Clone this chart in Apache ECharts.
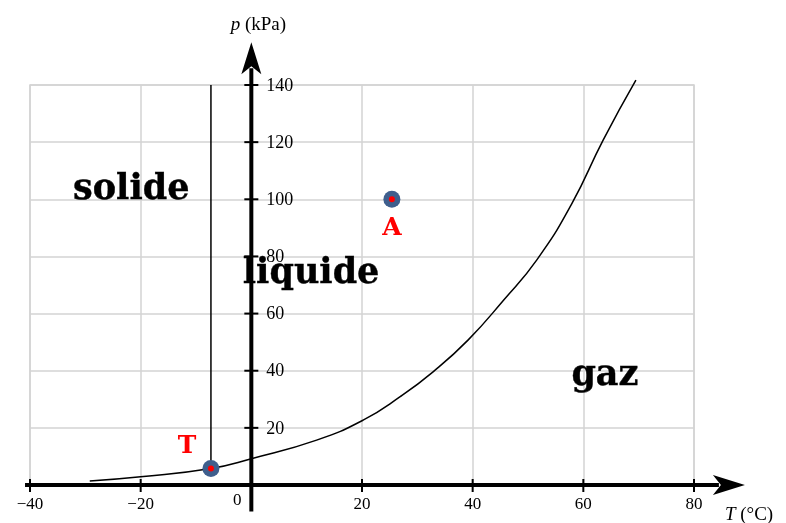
<!DOCTYPE html>
<html><head><meta charset="utf-8">
<script src="https://cdn.jsdelivr.net/npm/echarts@6/dist/echarts.min.js"></script>
<style>html,body{margin:0;padding:0;background:#fff}#c{width:786px;height:523px}</style>
</head><body><div id="c"></div>
<script>
// ---- data ----
const xTicks = [-40, -20, 0, 20, 40, 60, 80];
const yTicks = [20, 40, 60, 80, 100, 120, 140];
const curveT = [-29.2, -20, -7.3, 0, 11.8, 20.2, 26.9, 32.9, 39.2, 45.5, 51.6, 57.9, 63.6, 69.5];
const curveP = [1.4, 2.9, 5.8, 9.2, 15.7, 22.7, 30.9, 39.7, 50.8, 64.5, 78.8, 98.4, 120.8, 141.7];
const fusionT = [-7.3, -7.3];
const fusionP = [5.8, 140];
const pointNames = ['T', 'A'];
const pointT = [-7.3, 25.4];
const pointP = [5.8, 100];
const regionNames = ['solide', 'liquide', 'gaz'];
const regionT = [-21.7, 10.8, 63.9];
const regionP = [103.4, 74.0, 38.3];
const xAxisExtent = [-40.9, 89.2];
const yAxisExtent = [-9.3, 155];

const serif = "'Liberation Serif', 'DejaVu Serif', serif";
const chart = echarts.init(document.getElementById('c'), null, {renderer: 'canvas'});
const zip = (a, b) => a.map((v, i) => [v, b[i]]);

chart.setOption({
  animation: false,
  backgroundColor: '#fff',
  grid: {left: 30, right: 92, top: 85, bottom: 38, show: true, borderColor: '#d3d3d3', borderWidth: 1.5, backgroundColor: 'transparent'},
  xAxis: {type: 'value', min: -40, max: 80, interval: 20,
    axisLine: {show: false}, axisTick: {show: false}, axisLabel: {show: false},
    splitLine: {show: true, lineStyle: {color: '#d3d3d3', width: 1.5}}},
  yAxis: {type: 'value', min: 0, max: 140, interval: 20,
    axisLine: {show: false}, axisTick: {show: false}, axisLabel: {show: false},
    splitLine: {show: true, lineStyle: {color: '#d3d3d3', width: 1.5}}},
  series: [
    {type: 'line', data: zip(curveT, curveP), smooth: 0.5, symbol: 'none', clip: false,
      lineStyle: {color: '#000', width: 1.5}, z: 3},
    {type: 'line', data: zip(fusionT, fusionP), symbol: 'none', clip: false,
      lineStyle: {color: '#000', width: 1.5}, z: 3},
    {type: 'scatter', data: pointNames.map((n, i) => ({name: n, value: [pointT[i], pointP[i]],
        label: {offset: n === 'A' ? [0, 29] : [-24, -22]}})),
      symbolSize: 17, itemStyle: {color: '#3f5f8d', opacity: 1}, z: 5,
      label: {show: true, position: 'inside', formatter: p => p.name, color: '#ff0000',
        fontFamily: "'DejaVu Serif', serif", fontWeight: 'bold', fontSize: 25, textBorderWidth: 0}},
    {type: 'scatter', data: zip(pointT, pointP), symbolSize: 6,
      itemStyle: {color: '#ff0000', opacity: 1}, z: 6},
    {type: 'scatter', data: regionNames.map((n, i) => ({name: n, value: [regionT[i], regionP[i]]})),
      symbolSize: 1, itemStyle: {color: 'rgba(0,0,0,0)'}, z: 8,
      label: {show: true, position: 'inside', formatter: p => p.name, color: '#000', opacity: 1,
        fontFamily: "'DejaVu Serif', serif", fontWeight: 'bold', fontSize: 35,
        textBorderColor: '#000', textBorderWidth: 0.4}}
  ]
});

const px = (t, p) => chart.convertToPixel({gridIndex: 0}, [t, p]);
const g = [];
const black = '#000';
// x axis
const xs = px(xAxisExtent[0], 0), xe = px(xAxisExtent[1], 0);
g.push({type: 'line', shape: {x1: xs[0], y1: xs[1], x2: xe[0] - 26, y2: xe[1]}, style: {stroke: black, lineWidth: 4}, z: 10});
g.push({type: 'polygon', shape: {points: [[xe[0], xe[1]], [xe[0] - 32, xe[1] - 10], [xe[0] - 24, xe[1]], [xe[0] - 32, xe[1] + 10]]}, style: {fill: black}, z: 10});
// y axis
const ys = px(0, yAxisExtent[0]), ye = px(0, yAxisExtent[1]);
g.push({type: 'line', shape: {x1: ys[0], y1: ys[1], x2: ye[0], y2: ye[1] + 26}, style: {stroke: black, lineWidth: 4}, z: 10});
g.push({type: 'polygon', shape: {points: [[ye[0], ye[1]], [ye[0] - 10, ye[1] + 32], [ye[0], ye[1] + 24], [ye[0] + 10, ye[1] + 32]]}, style: {fill: black}, z: 10});
// ticks + labels
xTicks.forEach(t => {
  const c = px(t, 0);
  if (t !== 0) {
    g.push({type: 'line', shape: {x1: c[0], y1: c[1] - 6, x2: c[0], y2: c[1] + 7}, style: {stroke: black, lineWidth: 2}, z: 10});
    g.push({type: 'text', x: c[0], y: c[1] + 20, style: {text: t < 0 ? '\u2212' + Math.abs(t) : String(t), font: '17px ' + serif, fill: black, align: 'center', verticalAlign: 'middle'}, z: 10});
  } else {
    g.push({type: 'text', x: c[0] - 14, y: c[1] + 16, style: {text: '0', font: '17px ' + serif, fill: black, align: 'center', verticalAlign: 'middle'}, z: 10});
  }
});
yTicks.forEach(p => {
  const c = px(0, p);
  g.push({type: 'line', shape: {x1: c[0] - 7, y1: c[1], x2: c[0] + 7, y2: c[1]}, style: {stroke: black, lineWidth: 2}, z: 10});
  g.push({type: 'text', x: c[0] + 15, y: c[1] + 1, style: {text: String(p), font: '18px ' + serif, fill: black, align: 'left', verticalAlign: 'middle'}, z: 11});
});
// axis titles
g.push({type: 'text', x: ye[0] + 7, y: ye[1] - 17, style: {text: '{i|p} (kPa)', font: '19px ' + serif, fill: black, align: 'center', verticalAlign: 'middle', rich: {i: {fontStyle: 'italic', font: 'italic 19px ' + serif}}}, z: 10});
g.push({type: 'text', x: xe[0] - 20, y: xe[1] + 30, style: {text: '{i|T} (\u00b0C)', font: '19px ' + serif, fill: black, align: 'left', verticalAlign: 'middle', rich: {i: {fontStyle: 'italic', font: 'italic 19px ' + serif}}}, z: 10});
chart.setOption({graphic: {elements: g}});
</script>
</body></html>
